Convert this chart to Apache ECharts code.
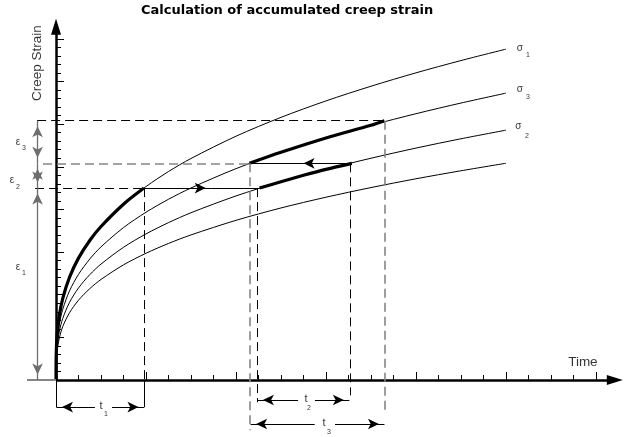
<!DOCTYPE html>
<html>
<head>
<meta charset="utf-8">
<script src="https://cdn.jsdelivr.net/npm/echarts@6/dist/echarts.min.js"></script>
<style>
  html, body { margin: 0; padding: 0; background: #fff; }
  #chart { width: 629px; height: 437px; }
</style>
</head>
<body>
<div id="chart"></div>
<script>
// time in minor tick units, strain in minor tick units
const timePoints = [0, 0.01, 0.05, 0.15, 0.3, 0.6, 1, 1.5, 2, 3, 4, 5, 6, 8, 10, 12, 14, 16, 18, 20]
const strainSigma1 = [0, 3.08, 5.26, 7.59, 9.57, 12.05, 14.29, 16.36, 18.0, 20.61, 22.68, 24.44, 25.97, 28.58, 30.79, 32.72, 34.44, 36.01, 37.45, 38.79]
const strainSigma3 = [0, 2.67, 4.56, 6.58, 8.29, 10.45, 12.39, 14.18, 15.61, 17.87, 19.67, 21.19, 22.51, 24.78, 26.69, 28.37, 29.86, 31.22, 32.47, 33.63]
const strainSigma2 = [0, 2.32, 3.97, 5.73, 7.22, 9.10, 10.79, 12.35, 13.59, 15.56, 17.13, 18.45, 19.61, 21.58, 23.25, 24.70, 26.0, 27.19, 28.28, 29.29]
const strainLowest = [0, 2.02, 3.45, 4.97, 6.27, 7.89, 9.36, 10.71, 11.79, 13.50, 14.86, 16.01, 17.01, 18.72, 20.17, 21.43, 22.56, 23.59, 24.53, 25.41]

// accumulated path (thick parts)
const pathOnSigma1 = [[0, 0], [0.01, 3.08], [0.05, 5.26], [0.15, 7.59], [0.3, 9.57], [0.6, 12.05], [1, 14.29], [1.5, 16.36], [2, 18.0], [3, 20.61], [3.91, 22.5]]
const pathOnSigma2 = [[9.05, 22.5], [10, 23.25], [11, 24.0], [12, 24.7], [13.15, 25.4]]
const pathOnSigma3 = [[8.6, 25.4], [10, 26.69], [12, 28.37], [14, 29.86], [14.6, 30.4]]

// eps1, eps1+eps2, eps1+eps2+eps3
const strainLevels = [22.5, 25.4, 30.4]
// t1, t2, t3 start / end
const periodStart = [0, 8.95, 8.6]
const periodEnd = [3.91, 13.1, 14.6]

const timeMinorTicks = [0, 1, 2, 3, 4, 5, 6, 7, 8, 9, 10, 11, 12, 13, 14, 15, 16, 17, 18, 19, 20, 21, 22, 23, 24]
const timeMajorTicks = [0, 4, 8, 12, 16, 20, 24]
const strainMinorTicks = [0, 1, 2, 3, 4, 5, 6, 7, 8, 9, 10, 11, 12, 13, 14, 15, 16, 17, 18, 19, 20, 21, 22, 23, 24, 25, 26, 27, 28, 29, 30, 31, 32, 33, 34, 35, 36, 37, 38, 39, 40]
const strainMajorTicks = [0, 5, 10, 15, 20, 25, 30, 35, 40]

// text annotations [text, time, strain]
const greekText = [['σ', 20.62, 38.9], ['σ', 20.62, 34.1], ['σ', 20.55, 29.7], ['ε', -1.69, 27.9], ['ε', -1.96, 23.45], ['ε', -1.69, 13.25]]
const periodText = [['t', 2.0, -3.05], ['t', 11.11, -2.23], ['t', 11.91, -5.04]]
const subText = [['1', 20.98, 38.1], ['3', 20.98, 33.2], ['2', 20.93, 28.6], ['3', -1.42, 27.2], ['2', -1.69, 22.6], ['1', -1.42, 12.5], ['1', 2.22, -3.99], ['2', 11.24, -3.28], ['3', 12.13, -6.1]]
const axisText = [['Creep Strain', -0.84, 37.16, 90], ['Time', 23.42, 2.11, 0]]

const chart = echarts.init(document.getElementById('chart'))

const black = '#000'
const gray = '#858585'
const font = 'Liberation Sans, Arial, sans-serif'
const dashBlack = { color: black, width: 1, type: [9, 5] }
const dashGray = { color: gray, width: 1.6, type: [9, 5] }
const solid = { color: black, width: 1, type: 'solid' }
const epsLine = { color: '#6e6e6e', width: 1.3, type: 'solid' }
const arrow = { symbol: 'arrow', symbolSize: [8, 11], symbolOffset: [0, '50%'] }
const axisArrow = { symbol: 'triangle', symbolSize: [10, 16] }

function seg(from, to, style, fromEnd, toEnd) {
  return [
    Object.assign({ coord: from, lineStyle: style, symbol: 'none' }, fromEnd || {}),
    Object.assign({ coord: to, symbol: 'none' }, toEnd || {})
  ]
}

const e1 = strainLevels[0], e2 = strainLevels[1], e3 = strainLevels[2]
const yT1 = -3.17, yT2 = -2.34, yT3 = -5.16, xEps = -0.82

const marks = [
  // axes
  seg([0, 0], [24.84, 0], { color: black, width: 2.5, type: 'solid' }, null, axisArrow),
  seg([0, 0], [0, 41.4], { color: black, width: 2.5, type: 'solid' }, null, axisArrow),
  seg([-1.29, 0], [0, 0], { color: gray, width: 2, type: 'solid' }),
  // horizontal levels
  seg([-0.84, e3], [periodEnd[2], e3], dashBlack),
  seg([-0.58, e2], [periodStart[2], e2], dashGray),
  seg([-0.93, e1], [periodEnd[0], e1], dashBlack),
  seg([periodEnd[0], e1], [6.9, e1], solid, null, arrow),
  seg([6.9, e1], [9.05, e1], solid),
  seg([13.15, e2], [10.76, e2], solid, null, arrow),
  seg([10.76, e2], [periodStart[2], e2], solid),
  // verticals
  seg([periodEnd[0], e1], [periodEnd[0], 0], dashBlack),
  seg([periodEnd[0], 0], [periodEnd[0], -3.2], solid),
  seg([0.02, 0], [0.02, -3.2], solid),
  seg([periodStart[1], e1], [periodStart[1], -2.6], dashBlack),
  seg([periodEnd[1], e2], [periodEnd[1], -1.8], dashBlack),
  seg([periodStart[2], e2], [periodStart[2], -5.9], dashGray),
  seg([periodEnd[2], e3], [periodEnd[2], -3.9], dashGray),
  // time spans
  seg([1.73, yT1], [0.02, yT1], solid, null, arrow),
  seg([2.49, yT1], [periodEnd[0], yT1], solid, null, arrow),
  seg([10.76, yT2], [periodStart[1], yT2], solid, null, arrow),
  seg([11.51, yT2], [periodEnd[1] - 0.06, yT2], solid, null, arrow),
  seg([11.5, yT3], [periodStart[2] + 0.05, yT3], solid, null, arrow),
  seg([12.4, yT3], [periodEnd[2], yT3], solid, null, arrow),
  // strain spans
  seg([xEps, e1], [xEps, 0], epsLine, arrow, arrow),
  seg([xEps, e2], [xEps, e1], epsLine, arrow, arrow),
  seg([xEps, e3], [xEps, e2], epsLine, arrow, arrow)
]

function curve(name, values) {
  return {
    type: 'line', name: name, silent: true, z: 3,
    data: timePoints.map((t, i) => [t, values[i]]),
    symbol: 'none', showSymbol: false, smooth: 0.3,
    lineStyle: { color: black, width: 1 }
  }
}

function thick(name, points) {
  return {
    type: 'line', name: name, silent: true, z: 4,
    data: points, symbol: 'none', showSymbol: false, smooth: 0.3,
    lineStyle: { color: black, width: 3.2 }
  }
}

function texts(items, size) {
  return {
    type: 'scatter', silent: true, z: 6, symbolSize: 1,
    itemStyle: { color: 'rgba(0,0,0,0)' },
    data: items.map(d => ({ value: [d[1], d[2]], label: { formatter: d[0], rotate: d[3] || 0 } })),
    label: { show: true, position: 'inside', color: black, fontSize: size, fontFamily: font }
  }
}

const axisBase = { type: 'value', axisLabel: { show: false }, splitLine: { show: false } }

const option = {
  animation: false,
  backgroundColor: '#fff',
  title: {
    text: 'Calculation of accumulated creep strain',
    left: 141, top: 4, padding: 0,
    textStyle: { fontFamily: 'DejaVu Sans', fontWeight: 'bold', fontSize: 13, color: black }
  },
  grid: { left: 0, right: 0, top: 0, bottom: 0 },
  xAxis: [
    Object.assign({}, axisBase, {
      min: -2.49, max: 25.47, position: 'bottom',
      axisLine: { show: false, onZero: true, onZeroAxisIndex: 0 },
      axisTick: { show: true, inside: true, length: 5, customValues: timeMinorTicks, lineStyle: { color: black, width: 1 } }
    }),
    Object.assign({}, axisBase, {
      min: -2.49, max: 25.47, position: 'bottom',
      axisLine: { show: false, onZero: true, onZeroAxisIndex: 0 },
      axisTick: { show: true, inside: true, length: 8, customValues: timeMajorTicks, lineStyle: { color: black, width: 1 } }
    })
  ],
  yAxis: [
    Object.assign({}, axisBase, {
      min: -6.68, max: 44.55, position: 'left',
      axisLine: { show: false, onZero: true, onZeroAxisIndex: 0 },
      axisTick: { show: true, inside: true, length: 5, customValues: strainMinorTicks, lineStyle: { color: black, width: 1 } }
    }),
    Object.assign({}, axisBase, {
      min: -6.68, max: 44.55, position: 'left',
      axisLine: { show: false, onZero: true, onZeroAxisIndex: 0 },
      axisTick: { show: true, inside: true, length: 8, customValues: strainMajorTicks, lineStyle: { color: black, width: 1 } }
    })
  ],
  series: [
    {
      type: 'line', name: 'annotations', silent: true, z: 2,
      data: [[0, 0]], symbol: 'none', showSymbol: false, lineStyle: { width: 0 },
      markLine: {
        silent: true, animation: false, symbol: 'none', precision: 4,
        label: { show: false }, emphasis: { disabled: true },
        lineStyle: solid,
        data: marks
      }
    },
    curve('sigma1', strainSigma1),
    curve('sigma3', strainSigma3),
    curve('sigma2', strainSigma2),
    curve('lowest', strainLowest),
    thick('path1', pathOnSigma1),
    thick('path2', pathOnSigma2),
    thick('path3', pathOnSigma3),
    texts(greekText, 10),
    texts(periodText, 11),
    texts(subText, 7),
    texts(axisText, 13.5)
  ]
}

chart.setOption(option)
</script>
</body>
</html>
